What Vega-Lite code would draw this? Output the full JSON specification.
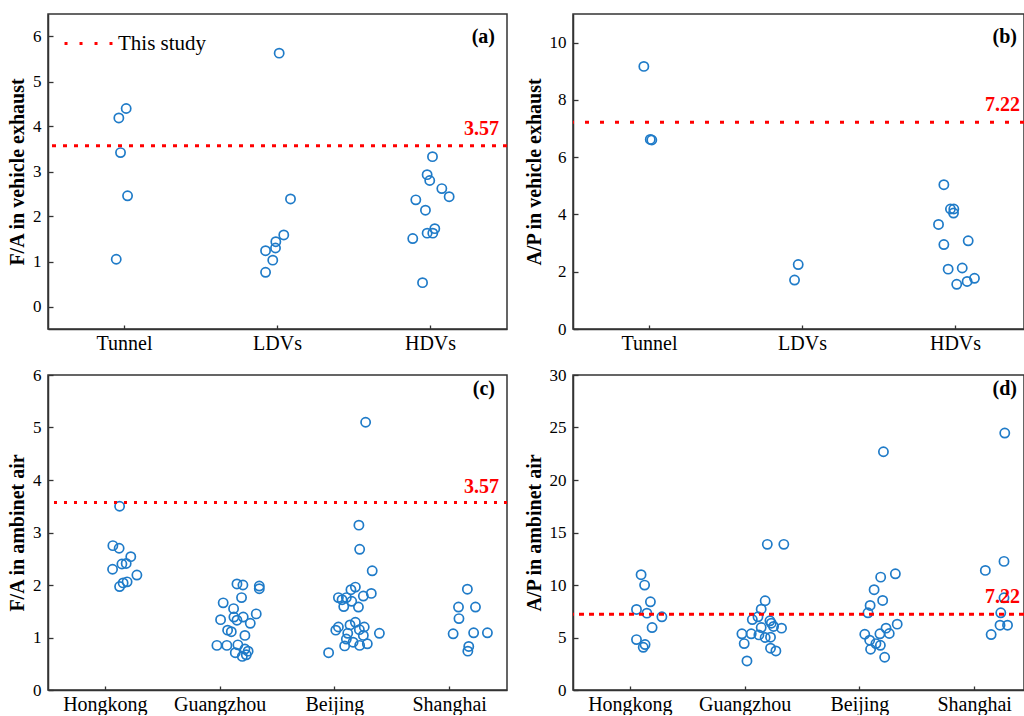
{
  "$schema": "https://vega.github.io/schema/vega-lite/v6.json",
  "padding": {"left": 6, "top": 13, "right": 0, "bottom": 0},
  "background": "white",
  "columns": 2,
  "bounds": "flush",
  "spacing": {"row": 46, "column": 66},
  "resolve": {"scale": {"color": "independent"}, "legend": {"color": "independent"}},
  "config": {
    "font": "Liberation Serif",
    "view": {"stroke": "#333333", "strokeWidth": 1.5},
    "axis": {"labelFont": "Liberation Serif", "labelFontSize": 17, "labelColor": "black", "titleFont": "Liberation Serif", "titleFontSize": 20, "titleFontWeight": "bold", "titleColor": "black", "domainColor": "#333333", "domainWidth": 1.5, "tickColor": "#333333", "tickWidth": 1.3, "grid": false},
    "axisX": {"labelFontSize": 20, "labelAngle": 0, "title": null, "tickSize": -4, "labelPadding": 8},
    "axisY": {"labelPadding": 12, "titlePadding": 5}
  },
  "datasets": {
    "a": [
      {"cat": "Tunnel", "v": 4.19, "j": -0.037}, {"cat": "Tunnel", "v": 4.40, "j": 0.011}, {"cat": "Tunnel", "v": 3.42, "j": -0.026}, {"cat": "Tunnel", "v": 2.46, "j": 0.020}, {"cat": "Tunnel", "v": 1.05, "j": -0.054},
      {"cat": "LDVs", "v": 5.63, "j": 0.011}, {"cat": "LDVs", "v": 2.39, "j": 0.085}, {"cat": "LDVs", "v": 1.59, "j": 0.041}, {"cat": "LDVs", "v": 1.44, "j": -0.011}, {"cat": "LDVs", "v": 1.30, "j": -0.013}, {"cat": "LDVs", "v": 1.24, "j": -0.078}, {"cat": "LDVs", "v": 1.03, "j": -0.031}, {"cat": "LDVs", "v": 0.76, "j": -0.078},
      {"cat": "HDVs", "v": 3.33, "j": 0.013}, {"cat": "HDVs", "v": 2.93, "j": -0.022}, {"cat": "HDVs", "v": 2.80, "j": -0.005}, {"cat": "HDVs", "v": 2.62, "j": 0.074}, {"cat": "HDVs", "v": 2.44, "j": 0.122}, {"cat": "HDVs", "v": 2.37, "j": -0.096}, {"cat": "HDVs", "v": 2.14, "j": -0.033}, {"cat": "HDVs", "v": 1.73, "j": 0.028}, {"cat": "HDVs", "v": 1.63, "j": -0.022}, {"cat": "HDVs", "v": 1.63, "j": 0.015}, {"cat": "HDVs", "v": 1.51, "j": -0.116}, {"cat": "HDVs", "v": 0.53, "j": -0.052}
    ],
    "b": [
      {"cat": "Tunnel", "v": 9.17, "j": -0.037}, {"cat": "Tunnel", "v": 6.60, "j": 0.015}, {"cat": "Tunnel", "v": 6.62, "j": 0.005},
      {"cat": "LDVs", "v": 2.25, "j": -0.028}, {"cat": "LDVs", "v": 1.71, "j": -0.052},
      {"cat": "HDVs", "v": 5.04, "j": -0.076}, {"cat": "HDVs", "v": 4.19, "j": -0.033}, {"cat": "HDVs", "v": 4.19, "j": -0.011}, {"cat": "HDVs", "v": 4.05, "j": -0.013}, {"cat": "HDVs", "v": 3.65, "j": -0.111}, {"cat": "HDVs", "v": 2.95, "j": -0.076}, {"cat": "HDVs", "v": 3.08, "j": 0.083}, {"cat": "HDVs", "v": 2.09, "j": -0.048}, {"cat": "HDVs", "v": 2.13, "j": 0.044}, {"cat": "HDVs", "v": 1.77, "j": 0.124}, {"cat": "HDVs", "v": 1.66, "j": 0.076}, {"cat": "HDVs", "v": 1.56, "j": 0.008}
    ],
    "c": [
      {"cat": "Hongkong", "v": 3.50, "j": -0.032}, {"cat": "Hongkong", "v": 2.75, "j": -0.076}, {"cat": "Hongkong", "v": 2.70, "j": -0.035}, {"cat": "Hongkong", "v": 2.54, "j": 0.041}, {"cat": "Hongkong", "v": 2.41, "j": 0.011}, {"cat": "Hongkong", "v": 2.40, "j": -0.017}, {"cat": "Hongkong", "v": 2.30, "j": -0.078}, {"cat": "Hongkong", "v": 2.19, "j": 0.081}, {"cat": "Hongkong", "v": 2.06, "j": 0.017}, {"cat": "Hongkong", "v": 2.04, "j": -0.009}, {"cat": "Hongkong", "v": 1.97, "j": -0.032},
      {"cat": "Guangzhou", "v": 2.02, "j": -0.015}, {"cat": "Guangzhou", "v": 2.00, "j": 0.024}, {"cat": "Guangzhou", "v": 1.98, "j": 0.131}, {"cat": "Guangzhou", "v": 1.93, "j": 0.131}, {"cat": "Guangzhou", "v": 1.76, "j": 0.015}, {"cat": "Guangzhou", "v": 1.66, "j": -0.105}, {"cat": "Guangzhou", "v": 1.55, "j": -0.037}, {"cat": "Guangzhou", "v": 1.45, "j": 0.111}, {"cat": "Guangzhou", "v": 1.39, "j": -0.035}, {"cat": "Guangzhou", "v": 1.39, "j": 0.026}, {"cat": "Guangzhou", "v": 1.34, "j": -0.122}, {"cat": "Guangzhou", "v": 1.33, "j": -0.015}, {"cat": "Guangzhou", "v": 1.27, "j": 0.072}, {"cat": "Guangzhou", "v": 1.14, "j": -0.076}, {"cat": "Guangzhou", "v": 1.11, "j": -0.052}, {"cat": "Guangzhou", "v": 1.04, "j": 0.037}, {"cat": "Guangzhou", "v": 0.85, "j": -0.146}, {"cat": "Guangzhou", "v": 0.85, "j": -0.081}, {"cat": "Guangzhou", "v": 0.86, "j": -0.009}, {"cat": "Guangzhou", "v": 0.78, "j": 0.037}, {"cat": "Guangzhou", "v": 0.74, "j": 0.058}, {"cat": "Guangzhou", "v": 0.71, "j": -0.026}, {"cat": "Guangzhou", "v": 0.64, "j": 0.020}, {"cat": "Guangzhou", "v": 0.67, "j": 0.046},
      {"cat": "Beijing", "v": 5.10, "j": 0.076}, {"cat": "Beijing", "v": 3.14, "j": 0.032}, {"cat": "Beijing", "v": 2.68, "j": 0.037}, {"cat": "Beijing", "v": 2.27, "j": 0.119}, {"cat": "Beijing", "v": 1.96, "j": 0.009}, {"cat": "Beijing", "v": 1.91, "j": -0.020}, {"cat": "Beijing", "v": 1.84, "j": 0.113}, {"cat": "Beijing", "v": 1.79, "j": 0.061}, {"cat": "Beijing", "v": 1.76, "j": -0.102}, {"cat": "Beijing", "v": 1.76, "j": -0.050}, {"cat": "Beijing", "v": 1.72, "j": -0.078}, {"cat": "Beijing", "v": 1.69, "j": -0.015}, {"cat": "Beijing", "v": 1.59, "j": -0.067}, {"cat": "Beijing", "v": 1.58, "j": 0.029}, {"cat": "Beijing", "v": 1.29, "j": 0.009}, {"cat": "Beijing", "v": 1.24, "j": -0.026}, {"cat": "Beijing", "v": 1.20, "j": 0.067}, {"cat": "Beijing", "v": 1.20, "j": -0.102}, {"cat": "Beijing", "v": 1.14, "j": -0.119}, {"cat": "Beijing", "v": 1.15, "j": 0.035}, {"cat": "Beijing", "v": 1.08, "j": -0.041}, {"cat": "Beijing", "v": 1.08, "j": 0.166}, {"cat": "Beijing", "v": 1.04, "j": 0.061}, {"cat": "Beijing", "v": 0.97, "j": -0.050}, {"cat": "Beijing", "v": 0.91, "j": -0.006}, {"cat": "Beijing", "v": 0.88, "j": 0.087}, {"cat": "Beijing", "v": 0.84, "j": -0.061}, {"cat": "Beijing", "v": 0.85, "j": 0.037}, {"cat": "Beijing", "v": 0.71, "j": -0.166},
      {"cat": "Shanghai", "v": 1.92, "j": -0.009}, {"cat": "Shanghai", "v": 1.58, "j": -0.067}, {"cat": "Shanghai", "v": 1.58, "j": 0.044}, {"cat": "Shanghai", "v": 1.36, "j": -0.064}, {"cat": "Shanghai", "v": 1.07, "j": -0.102}, {"cat": "Shanghai", "v": 1.09, "j": 0.032}, {"cat": "Shanghai", "v": 1.09, "j": 0.122}, {"cat": "Shanghai", "v": 0.83, "j": 0.0}, {"cat": "Shanghai", "v": 0.74, "j": -0.006}
    ],
    "d": [
      {"cat": "Hongkong", "v": 10.98, "j": -0.055}, {"cat": "Hongkong", "v": 9.99, "j": -0.032}, {"cat": "Hongkong", "v": 8.40, "j": 0.006}, {"cat": "Hongkong", "v": 7.67, "j": -0.085}, {"cat": "Hongkong", "v": 7.32, "j": -0.017}, {"cat": "Hongkong", "v": 6.97, "j": 0.081}, {"cat": "Hongkong", "v": 5.95, "j": 0.017}, {"cat": "Hongkong", "v": 4.80, "j": -0.085}, {"cat": "Hongkong", "v": 4.33, "j": -0.029}, {"cat": "Hongkong", "v": 4.07, "j": -0.041},
      {"cat": "Guangzhou", "v": 13.87, "j": 0.020}, {"cat": "Guangzhou", "v": 13.87, "j": 0.128}, {"cat": "Guangzhou", "v": 8.50, "j": 0.006}, {"cat": "Guangzhou", "v": 7.70, "j": -0.020}, {"cat": "Guangzhou", "v": 6.97, "j": -0.041}, {"cat": "Guangzhou", "v": 6.71, "j": -0.078}, {"cat": "Guangzhou", "v": 6.59, "j": 0.037}, {"cat": "Guangzhou", "v": 6.36, "j": 0.046}, {"cat": "Guangzhou", "v": 5.95, "j": -0.020}, {"cat": "Guangzhou", "v": 6.05, "j": 0.061}, {"cat": "Guangzhou", "v": 5.89, "j": 0.113}, {"cat": "Guangzhou", "v": 5.35, "j": -0.146}, {"cat": "Guangzhou", "v": 5.35, "j": -0.085}, {"cat": "Guangzhou", "v": 5.25, "j": -0.035}, {"cat": "Guangzhou", "v": 5.00, "j": 0.006}, {"cat": "Guangzhou", "v": 5.03, "j": 0.041}, {"cat": "Guangzhou", "v": 4.42, "j": -0.131}, {"cat": "Guangzhou", "v": 3.98, "j": 0.041}, {"cat": "Guangzhou", "v": 3.72, "j": 0.076}, {"cat": "Guangzhou", "v": 2.77, "j": -0.113},
      {"cat": "Beijing", "v": 22.69, "j": 0.029}, {"cat": "Beijing", "v": 11.07, "j": 0.107}, {"cat": "Beijing", "v": 10.75, "j": 0.011}, {"cat": "Beijing", "v": 9.55, "j": -0.032}, {"cat": "Beijing", "v": 8.05, "j": -0.058}, {"cat": "Beijing", "v": 8.53, "j": 0.024}, {"cat": "Beijing", "v": 7.35, "j": -0.072}, {"cat": "Beijing", "v": 5.89, "j": 0.046}, {"cat": "Beijing", "v": 6.27, "j": 0.119}, {"cat": "Beijing", "v": 5.31, "j": -0.093}, {"cat": "Beijing", "v": 5.35, "j": 0.006}, {"cat": "Beijing", "v": 5.38, "j": 0.067}, {"cat": "Beijing", "v": 4.74, "j": -0.061}, {"cat": "Beijing", "v": 4.42, "j": -0.020}, {"cat": "Beijing", "v": 4.26, "j": 0.009}, {"cat": "Beijing", "v": 3.88, "j": -0.055}, {"cat": "Beijing", "v": 3.12, "j": 0.037},
      {"cat": "Shanghai", "v": 24.47, "j": 0.072}, {"cat": "Shanghai", "v": 12.25, "j": 0.067}, {"cat": "Shanghai", "v": 11.39, "j": -0.055}, {"cat": "Shanghai", "v": 8.78, "j": 0.067}, {"cat": "Shanghai", "v": 7.35, "j": 0.046}, {"cat": "Shanghai", "v": 6.17, "j": 0.041}, {"cat": "Shanghai", "v": 6.17, "j": 0.090}, {"cat": "Shanghai", "v": 5.28, "j": -0.017}
    ],
    "fa": [{"v": 3.57, "label": "3.57", "name": "This study"}],
    "ap": [{"v": 7.22, "label": "7.22", "name": "This study"}]
  },
  "concat": [
    {
      "width": 459, "height": 315,
      "title": {"text": "(a)", "anchor": "end", "frame": "group", "offset": -33, "dx": -12, "font": "Liberation Serif", "fontSize": 20, "fontWeight": "bold", "color": "black"},
      "layer": [
        {
          "data": {"name": "a"},
          "mark": {"type": "point", "shape": "circle", "size": 85, "strokeWidth": 1.7, "color": "#1f7bc8", "filled": false, "opacity": 1},
          "encoding": {
            "x": {"field": "cat", "type": "nominal", "sort": ["Tunnel", "LDVs", "HDVs"], "scale": {"paddingInner": 0, "paddingOuter": 0}},
            "xOffset": {"field": "j", "type": "quantitative", "scale": {"domain": [-0.5, 0.5]}},
            "y": {"field": "v", "type": "quantitative", "title": "F/A in vehicle exhaust", "scale": {"domain": [-0.5, 6.5], "nice": false, "zero": false},
              "axis": {"values": [0, 0.5, 1, 1.5, 2, 2.5, 3, 3.5, 4, 4.5, 5, 5.5, 6], "labelExpr": "datum.value % 1 === 0 ? datum.label : ''", "tickSize": {"condition": {"test": "datum.value % 1 === 0", "value": -5}, "value": -3}}}
          }
        },
        {
          "data": {"name": "fa"},
          "mark": {"type": "rule", "strokeWidth": 3, "strokeDash": [4, 7]},
          "encoding": {
            "y": {"field": "v", "type": "quantitative"},
            "color": {"field": "name", "type": "nominal", "scale": {"range": ["#ff0000"]},
              "legend": {"orient": "none", "legendX": 15, "legendY": 4, "title": null, "symbolType": "stroke", "symbolSize": 2300, "symbolStrokeWidth": 3, "symbolDash": [3, 12], "labelFont": "Liberation Serif", "labelFontSize": 21, "labelColor": "black", "labelOffset": 4, "padding": 0}}
          }
        },
        {
          "data": {"name": "fa"},
          "mark": {"type": "text", "align": "right", "baseline": "alphabetic", "dx": -8, "dy": -11, "font": "Liberation Serif", "fontSize": 20, "fontWeight": "bold", "color": "#ff0000"},
          "encoding": {"y": {"field": "v", "type": "quantitative"}, "x": {"value": "width"}, "text": {"field": "label"}}
        }
      ]
    },
    {
      "width": 451, "height": 315,
      "title": {"text": "(b)", "anchor": "end", "frame": "group", "offset": -33, "dx": -7, "font": "Liberation Serif", "fontSize": 20, "fontWeight": "bold", "color": "black"},
      "layer": [
        {
          "data": {"name": "b"},
          "mark": {"type": "point", "shape": "circle", "size": 85, "strokeWidth": 1.7, "color": "#1f7bc8", "filled": false, "opacity": 1},
          "encoding": {
            "x": {"field": "cat", "type": "nominal", "sort": ["Tunnel", "LDVs", "HDVs"], "scale": {"paddingInner": 0, "paddingOuter": 0, "range": [0, 459]}},
            "xOffset": {"field": "j", "type": "quantitative", "scale": {"domain": [-0.5, 0.5]}},
            "y": {"field": "v", "type": "quantitative", "title": "A/P in vehicle exhaust", "scale": {"domain": [0, 11], "nice": false},
              "axis": {"values": [0, 1, 2, 3, 4, 5, 6, 7, 8, 9, 10, 11], "labelExpr": "datum.value % 2 === 0 ? datum.label : ''", "tickSize": {"condition": {"test": "datum.value % 2 === 0", "value": -5}, "value": -3}}}
          }
        },
        {
          "data": {"name": "ap"},
          "mark": {"type": "rule", "strokeWidth": 3, "strokeDash": [4, 11], "color": "#ff0000"},
          "encoding": {"y": {"field": "v", "type": "quantitative"}}
        },
        {
          "data": {"name": "ap"},
          "mark": {"type": "text", "align": "right", "baseline": "alphabetic", "dx": -4, "dy": -11, "font": "Liberation Serif", "fontSize": 20, "fontWeight": "bold", "color": "#ff0000"},
          "encoding": {"y": {"field": "v", "type": "quantitative"}, "x": {"value": "width"}, "text": {"field": "label"}}
        }
      ]
    },
    {
      "width": 459, "height": 315,
      "title": {"text": "(c)", "anchor": "end", "frame": "group", "offset": -33, "dx": -12, "font": "Liberation Serif", "fontSize": 20, "fontWeight": "bold", "color": "black"},
      "layer": [
        {
          "data": {"name": "c"},
          "mark": {"type": "point", "shape": "circle", "size": 85, "strokeWidth": 1.7, "color": "#1f7bc8", "filled": false, "opacity": 1},
          "encoding": {
            "x": {"field": "cat", "type": "nominal", "sort": ["Hongkong", "Guangzhou", "Beijing", "Shanghai"], "scale": {"paddingInner": 0, "paddingOuter": 0}},
            "xOffset": {"field": "j", "type": "quantitative", "scale": {"domain": [-0.5, 0.5]}},
            "y": {"field": "v", "type": "quantitative", "title": "F/A in ambinet air", "scale": {"domain": [0, 6], "nice": false},
              "axis": {"values": [0, 0.5, 1, 1.5, 2, 2.5, 3, 3.5, 4, 4.5, 5, 5.5, 6], "labelExpr": "datum.value % 1 === 0 ? datum.label : ''", "tickSize": {"condition": {"test": "datum.value % 1 === 0", "value": -5}, "value": -3}}}
          }
        },
        {
          "data": {"name": "fa"},
          "mark": {"type": "rule", "strokeWidth": 3, "strokeDash": [3, 7], "color": "#ff0000"},
          "encoding": {"y": {"field": "v", "type": "quantitative"}}
        },
        {
          "data": {"name": "fa"},
          "mark": {"type": "text", "align": "right", "baseline": "alphabetic", "dx": -8, "dy": -10, "font": "Liberation Serif", "fontSize": 20, "fontWeight": "bold", "color": "#ff0000"},
          "encoding": {"y": {"field": "v", "type": "quantitative"}, "x": {"value": "width"}, "text": {"field": "label"}}
        }
      ]
    },
    {
      "width": 451, "height": 315,
      "title": {"text": "(d)", "anchor": "end", "frame": "group", "offset": -33, "dx": -7, "font": "Liberation Serif", "fontSize": 20, "fontWeight": "bold", "color": "black"},
      "layer": [
        {
          "data": {"name": "d"},
          "mark": {"type": "point", "shape": "circle", "size": 85, "strokeWidth": 1.7, "color": "#1f7bc8", "filled": false, "opacity": 1},
          "encoding": {
            "x": {"field": "cat", "type": "nominal", "sort": ["Hongkong", "Guangzhou", "Beijing", "Shanghai"], "scale": {"paddingInner": 0, "paddingOuter": 0, "range": [0, 459]}},
            "xOffset": {"field": "j", "type": "quantitative", "scale": {"domain": [-0.5, 0.5]}},
            "y": {"field": "v", "type": "quantitative", "title": "A/P in ambinet air", "scale": {"domain": [0, 30], "nice": false},
              "axis": {"values": [0, 2.5, 5, 7.5, 10, 12.5, 15, 17.5, 20, 22.5, 25, 27.5, 30], "labelExpr": "datum.value % 5 === 0 ? datum.label : ''", "tickSize": {"condition": {"test": "datum.value % 5 === 0", "value": -5}, "value": -3}}}
          }
        },
        {
          "data": {"name": "ap"},
          "mark": {"type": "rule", "strokeWidth": 3, "strokeDash": [5, 5], "color": "#ff0000"},
          "encoding": {"y": {"field": "v", "type": "quantitative"}}
        },
        {
          "data": {"name": "ap"},
          "mark": {"type": "text", "align": "right", "baseline": "alphabetic", "dx": -4, "dy": -11, "font": "Liberation Serif", "fontSize": 20, "fontWeight": "bold", "color": "#ff0000"},
          "encoding": {"y": {"field": "v", "type": "quantitative"}, "x": {"value": "width"}, "text": {"field": "label"}}
        }
      ]
    }
  ]
}
